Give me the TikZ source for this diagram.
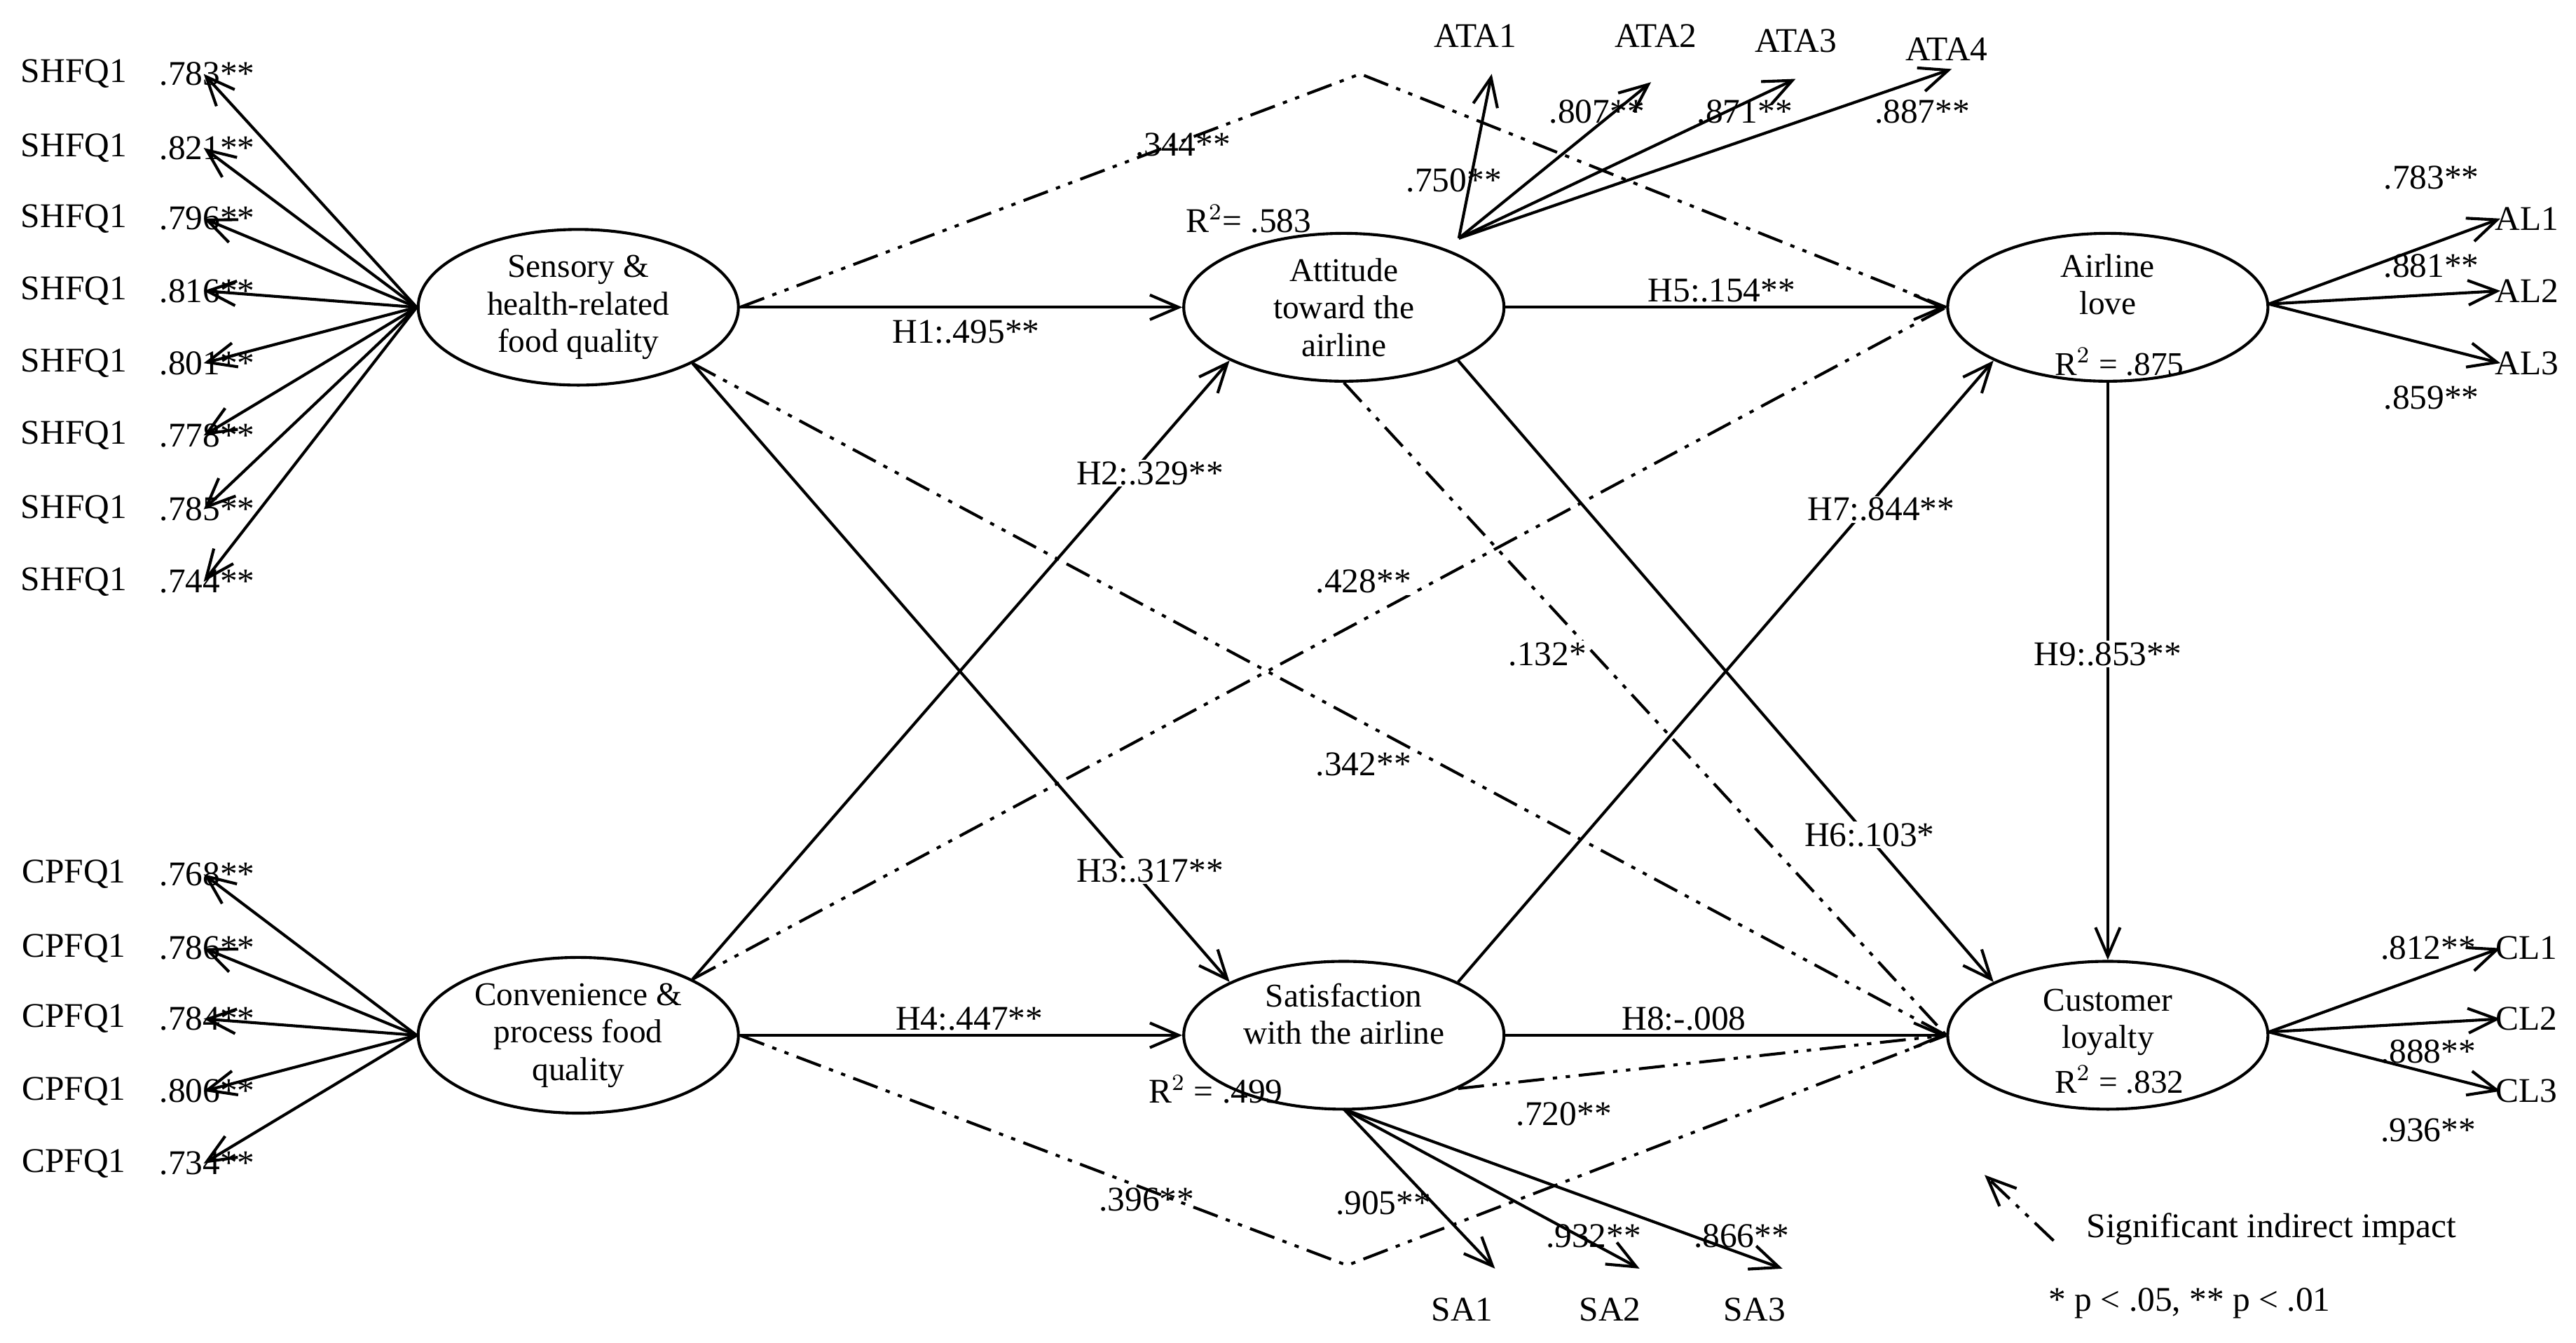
\documentclass[tikz,border=0pt]{standalone}
\usepackage{fontspec}
\setmainfont{Liberation Serif}
\usetikzlibrary{arrows.meta,shapes.geometric}
\begin{document}
\begin{tikzpicture}[x=0.02cm,y=-0.02cm,
  every node/.style={font=\fontsize{12}{13.5}\selectfont,inner sep=1pt},
  lv/.style={ellipse,draw,line width=1pt,minimum width=3.9cm,minimum height=1.8cm,align=center,font=\fontsize{11.5}{13}\selectfont},
  lt/.style={align=center,font=\fontsize{11.5}{13}\selectfont,inner sep=0pt},
  arr/.style={line width=1pt,-{Straight Barb[length=3.5mm,width=3mm]}},
  ind/.style={line width=1pt,dash pattern=on 9pt off 3pt on 1.5pt off 3pt on 1.5pt off 3pt},
  lbl/.style={fill=white,inner sep=0.5pt}]
\useasboundingbox (0,0) rectangle (1568,817);
\node[lv] (S) at (352,187) {Sensory \&\\health-related\\food quality};
\node[lv] (A) at (818,187) {Attitude\\toward the\\airline};
\node[lv] (L) at (1283,187) {};
\node[lt] (Lt) at (1283,173) {Airline\\love};
\node[lt] (Lr) at (1290,220) {R$^2$ = .875};
\node[lv] (C) at (352,630) {Convenience \&\\process food\\quality};
\node[lv] (T) at (818,630) {};
\node[lt] (Tt) at (818,617) {Satisfaction\\with the airline};
\node[lv] (Y) at (1283,630) {};
\node[lt] (Yt) at (1283,622) {Customer\\loyalty};
\node[lt] (Yr) at (1290,657) {R$^2$ = .832};
% indirect lines
\coordinate (k1) at (828,45);
\coordinate (k2) at (820,770);
\draw[ind] (S.east) -- (k1) -- (L.west);
\draw[ind] (C.north east) -- (L.west);
\draw[ind] (S.south east) -- (Y.west);
\draw[ind] (A.south) -- (Y.west);
\draw[ind] (T.south east) -- (Y.west);
\draw[ind] (C.east) -- (k2) -- (Y.west);
% structural
\draw[arr] (S.east) -- (A.west);
\draw[arr] (C.north east) -- (A.south west);
\draw[arr] (S.south east) -- (T.north west);
\draw[arr] (C.east) -- (T.west);
\draw[arr] (A.east) -- (L.west);
\draw[arr] (A.south east) -- (Y.north west);
\draw[arr] (T.north east) -- (L.south west);
\draw[arr] (T.east) -- (Y.west);
\draw[arr] (L.south) -- (Y.north);
% structural labels
\node[lbl] (h1) at (588,202) {H1:.495**};
\node[lbl] (h2) at (700,288) {H2:.329**};
\node[lbl] (h3) at (700,530) {H3:.317**};
\node[lbl] (h4) at (590,620) {H4:.447**};
\node[lbl] (h5) at (1048,177) {H5:.154**};
\node[lbl] (h6) at (1138,508) {H6:.103*};
\node[lbl] (h7) at (1145,310) {H7:.844**};
\node (h8) at (1025,620) {H8:-.008};
\node[lbl] (h9) at (1283,398) {H9:.853**};
\node (i1) at (720,88) {.344**};
\node[lbl] (i2) at (830,354) {.428**};
\node[lbl] (i3) at (830,465) {.342**};
\node[lbl] (i4) at (942,398) {.132*};
\node (i5) at (952,678) {.720**};
\node (i6) at (698,730) {.396**};
\node (r1) at (760,133) {R$^2$= .583};
\node (r2) at (740,663) {R$^2$ = .499};
% SHFQ
\foreach \y/\v [count=\i] in {45/.783,90/.821,133/.796,177/.816,221/.801,265/.778,310/.785,354/.744}{
  \node (sl\i) at (45,\y) {SHFQ1};
  \coordinate (se\i) at (124,\y);
  \draw[arr] (S.west) -- (se\i);
  \node[anchor=west] (sv\i) at (95,\y) {\v**};
}
\foreach \y/\v [count=\i] in {532/.768,577/.786,620/.784,664/.806,708/.734}{
  \node (cl\i) at (45,\y) {CPFQ1};
  \coordinate (ce\i) at (124,\y);
  \draw[arr] (C.west) -- (ce\i);
  \node[anchor=west] (cv\i) at (95,\y) {\v**};
}
% ATA
\coordinate (ao) at (888,145);
\foreach \x/\y/\lx/\ly/\v/\vx/\vy [count=\i] in {908/45/898/22/.750/885/110,1005/50/1008/22/.807/972/68,1093/48/1093/25/.871/1062/68,1188/42/1185/30/.887/1170/68}{
  \node (al\i) at (\lx,\ly) {ATA\i};
  \coordinate (ae\i) at (\x,\y);
  \draw[arr] (ao) -- (ae\i);
  \node (av\i) at (\vx,\vy) {\v**};
}
% AL
\coordinate (lo) at (1381,185);
\foreach \y/\v/\vy [count=\i] in {133/.783/108,177/.881/162,221/.859/242}{
  \node (ll\i) at (1538,\y) {AL\i};
  \coordinate (le\i) at (1522,\y);
  \draw[arr] (lo) -- (le\i);
  \node (lv\i) at (1480,\vy) {\v**};
}
% CL
\coordinate (yo) at (1381,628);
\foreach \y/\v/\vy [count=\i] in {577/.812/577,620/.888/640,664/.936/688}{
  \node (yl\i) at (1538,\y) {CL\i};
  \coordinate (ye\i) at (1522,\y);
  \draw[arr] (yo) -- (ye\i);
  \node (yv\i) at (1478,\vy) {\v**};
}
% SA
\coordinate (to) at (818,675);
\foreach \x/\lx/\v/\vx/\vy [count=\i] in {910/890/.905/842/732,998/980/.932/970/752,1085/1068/.866/1060/752}{
  \node (tl\i) at (\lx,797) {SA\i};
  \coordinate (te\i) at (\x,772);
  \draw[arr] (to) -- (te\i);
  \node (tv\i) at (\vx,\vy) {\v**};
}
% legend
\coordinate (lg1) at (1250,755);
\coordinate (lg2) at (1208,715);
\draw[ind,-{Straight Barb[length=3.5mm,width=3mm]}] (lg1) -- (lg2);
\node[anchor=west] (lgt) at (1268,748) {Significant indirect impact};
\node[anchor=west] (lgp) at (1245,793) {* p {\textless} .05, ** p {\textless} .01};
\end{tikzpicture}
\end{document}
